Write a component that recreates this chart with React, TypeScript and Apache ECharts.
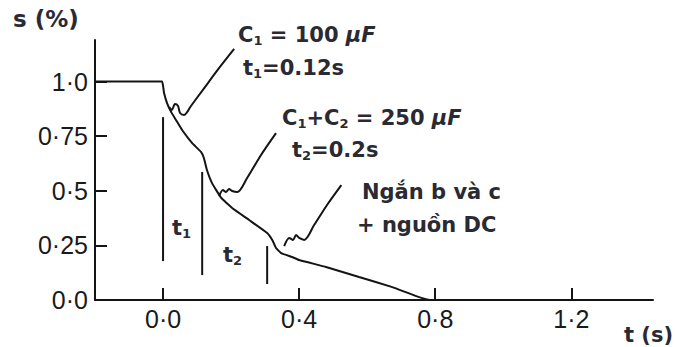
import { useEffect, useRef } from 'react';
import * as echarts from 'echarts';

// Slip s (%) versus time t (s)
const curveT = [-0.2, -0.003, 0.0, 0.003, 0.012, 0.024, 0.038, 0.056, 0.085, 0.112, 0.12, 0.129, 0.144, 0.171, 0.203, 0.253, 0.306, 0.321, 0.332, 0.347, 0.379, 0.4, 0.479, 0.576, 0.674, 0.74, 0.785, 0.8];
const curveS = [1.0, 1.0, 0.98, 0.947, 0.9, 0.86, 0.824, 0.778, 0.719, 0.677, 0.65, 0.595, 0.535, 0.467, 0.421, 0.366, 0.307, 0.275, 0.238, 0.215, 0.197, 0.183, 0.151, 0.105, 0.059, 0.02, 0.0, 0.0];

const xTicks = [0, 0.4, 0.8, 1.2];
const xTickLabels = ['0·0', '0·4', '0·8', '1·2'];
const yTicks = [0, 0.25, 0.5, 0.75, 1.0];
const yTickLabels = ['0·0', '0·25', '0·5', '0·75', '1·0'];

// Switching instants (vertical markers)
const markerT = [0.0, 0.115, 0.306];
const markerTop = [0.837, 0.586, 0.247];
const markerBottom = [0.178, 0.114, 0.073];

// Hand-drawn pointers from the notes to the curve
const arrow1T = [0.209, 0.165, 0.121, 0.082, 0.062, 0.05, 0.044, 0.035, 0.026, 0.018];
const arrow1S = [1.149, 1.062, 0.97, 0.888, 0.847, 0.856, 0.888, 0.897, 0.87, 0.883];
const arrow2T = [0.332, 0.288, 0.247, 0.218, 0.203, 0.194, 0.185, 0.176, 0.165];
const arrow2S = [0.764, 0.664, 0.558, 0.494, 0.499, 0.508, 0.494, 0.503, 0.476];
const arrow3T = [0.524, 0.482, 0.444, 0.415, 0.4, 0.391, 0.382, 0.371, 0.356];
const arrow3S = [0.526, 0.435, 0.343, 0.275, 0.284, 0.297, 0.275, 0.284, 0.247];

const INK = '#141414';
const TEXT = '#2a2a33';
const AXIS_FONT = '"Liberation Sans", Arial, sans-serif';
const NOTE_FONT = '"DejaVu Sans", sans-serif';
const NOTE_SIZE = 21;

const zip = (a: number[], b: number[]) => a.map((v, i) => [v, b[i]]);

const noteRich = {
  b: { fontSize: NOTE_SIZE, fontWeight: 'bold', fontFamily: NOTE_FONT, fill: TEXT, lineHeight: 24 },
  s: { fontSize: 13, fontWeight: 'bold', fontFamily: NOTE_FONT, fill: TEXT, lineHeight: 13, verticalAlign: 'bottom' },
  i: { fontSize: NOTE_SIZE, fontWeight: 'bold', fontStyle: 'italic', fontFamily: NOTE_FONT, fill: TEXT, lineHeight: 24 },
};

const note = (x: number, y: number, text: string) => ({
  type: 'text',
  x,
  y,
  style: {
    text,
    rich: noteRich,
    fontSize: NOTE_SIZE,
    fontWeight: 'bold',
    fontFamily: NOTE_FONT,
    fill: TEXT,
    align: 'left',
    verticalAlign: 'middle',
  },
});

export default function App() {
  const ref = useRef<HTMLDivElement>(null);

  useEffect(() => {
    document.body.style.margin = '0';
    const chart = echarts.init(ref.current!, null, { renderer: 'svg' });

    const lineSeries = (data: number[][], smooth: number | boolean = false) => ({
      type: 'line',
      data,
      showSymbol: false,
      symbol: 'none',
      smooth,
      silent: true,
      lineStyle: { color: INK, width: 2 },
    });

    const series: any[] = [lineSeries(zip(curveT, curveS), 0.1)];
    markerT.forEach((t, i) => {
      series.push(lineSeries([[t, markerTop[i]], [t, markerBottom[i]]]));
    });
    series.push(lineSeries(zip(arrow1T, arrow1S), 0.3));
    series.push(lineSeries(zip(arrow2T, arrow2S), 0.3));
    series.push(lineSeries(zip(arrow3T, arrow3S), 0.3));

    chart.setOption({
      animation: false,
      backgroundColor: '#ffffff',
      grid: { left: 95, right: 23, top: 40, bottom: 47 },
      xAxis: {
        type: 'value',
        min: -0.2,
        max: 1.44,
        axisLine: { onZero: false, lineStyle: { color: INK, width: 2 } },
        axisTick: { inside: true, length: 12, customValues: xTicks, lineStyle: { color: INK, width: 2 } },
        axisLabel: {
          customValues: xTicks,
          margin: 6,
          fontSize: 25,
          fontFamily: AXIS_FONT,
          color: '#1a1a1a',
          formatter: (v: number) => xTickLabels[xTicks.findIndex((x) => Math.abs(x - v) < 1e-6)] ?? '',
        },
        splitLine: { show: false },
      },
      yAxis: {
        type: 'value',
        min: 0,
        max: 1.19,
        axisLine: { show: true, onZero: false, lineStyle: { color: INK, width: 2 } },
        axisTick: { show: true, inside: true, length: 12, customValues: yTicks, lineStyle: { color: INK, width: 2 } },
        axisLabel: {
          customValues: yTicks,
          margin: 7,
          fontSize: 25,
          fontFamily: AXIS_FONT,
          color: '#1a1a1a',
          formatter: (v: number) => yTickLabels[yTicks.findIndex((y) => Math.abs(y - v) < 1e-6)] ?? '',
        },
        splitLine: { show: false },
      },
      series,
      graphic: [
        {
          type: 'text',
          x: 13,
          y: 19,
          style: { text: 's (%)', fontSize: 23, fontWeight: 'bold', fontFamily: NOTE_FONT, fill: TEXT, verticalAlign: 'middle' },
        },
        {
          type: 'text',
          x: 624,
          y: 335,
          style: { text: 't (s)', fontSize: 21, fontWeight: 'bold', fontFamily: NOTE_FONT, fill: TEXT, verticalAlign: 'middle' },
        },
        note(238, 35, '{b|C}{s|1}{b| = 100 }{i|μF}'),
        note(243, 68, '{b|t}{s|1}{b|=0.12s}'),
        note(282, 118, '{b|C}{s|1}{b|+C}{s|2}{b| = 250 }{i|μF}'),
        note(292, 150, '{b|t}{s|2}{b|=0.2s}'),
        note(362, 192, '{b|Ngắn b và c}'),
        note(357, 225, '{b|+ nguồn DC}'),
        note(172, 228, '{b|t}{s|1}'),
        note(223, 255, '{b|t}{s|2}'),
      ],
    });

    return () => chart.dispose();
  }, []);

  return <div ref={ref} style={{ width: 676, height: 347 }} />;
}
